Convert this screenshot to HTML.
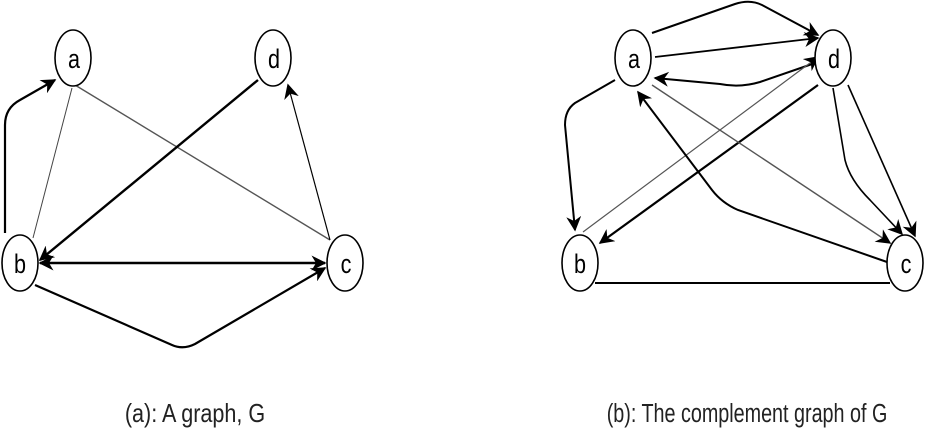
<!DOCTYPE html>
<html><head><style>
html,body{margin:0;padding:0;background:#fff;width:925px;height:436px;overflow:hidden}
</style></head><body>
<svg width="925" height="436" viewBox="0 0 925 436" xmlns="http://www.w3.org/2000/svg" font-family="Liberation Sans, sans-serif">
<defs>
<marker id="ar2" viewBox="0 0 10 10" refX="9" refY="5" markerWidth="15" markerHeight="15" markerUnits="userSpaceOnUse" orient="auto-start-reverse">
<path d="M0,0 L10,5 L0,10 L3,5 z" fill="#000"/></marker>
</defs>
<g fill="none" stroke="#000">
<path d="M5,233 L5,125 Q5,108 20,100 L55,80" stroke-width="2.2" marker-end="url(#ar2)"/>
<path d="M72,88 L33,238" stroke-width="1" stroke="#444"/>
<path d="M75,85 L330,240" stroke-width="1.4" stroke="#555"/>
<path d="M258,80 L40,260" stroke-width="2.4" marker-end="url(#ar2)"/>
<path d="M40,263 L325,263" stroke-width="2.6" marker-start="url(#ar2)" marker-end="url(#ar2)"/>
<path d="M35,285 L172,345 Q183,350 195,344 L325,268" stroke-width="2.2" marker-end="url(#ar2)"/>
<path d="M330,240 L288,85" stroke-width="1.2" marker-end="url(#ar2)"/>
<path d="M652,33 L735,4 Q750,-1 762,5 L818,35" stroke-width="2" marker-end="url(#ar2)"/>
<path d="M655,57 L818,38" stroke-width="1.8" marker-end="url(#ar2)"/>
<path d="M818,62 L760,82 Q740,88 720,84 L655,78" stroke-width="2" marker-end="url(#ar2)"/>
<path d="M583,232 L818,57" stroke-width="1.2" stroke="#555" marker-end="url(#ar2)"/>
<path d="M615,80 L575,103 Q565,110 565,125 L575,230" stroke-width="2" marker-end="url(#ar2)"/>
<path d="M818,85 L600,243" stroke-width="2.2" marker-end="url(#ar2)"/>
<path d="M652,85 L890,243" stroke-width="1.4" stroke="#555" marker-end="url(#ar2)"/>
<path d="M887,262 L738,210 Q722,203 712,190 L638,92" stroke-width="2" marker-end="url(#ar2)"/>
<path d="M833,88 L845,160 Q850,180 870,200 L902,234" stroke-width="1.6" marker-end="url(#ar2)"/>
<path d="M848,85 L915,236" stroke-width="1.6" marker-end="url(#ar2)"/>
<path d="M595,283 L890,283" stroke-width="2"/>
</g>
<g fill="#fff" stroke="#000" stroke-width="1.6">
<ellipse cx="73" cy="58" rx="18" ry="28"/>
<ellipse cx="273" cy="58" rx="18" ry="28"/>
<ellipse cx="20" cy="263" rx="18" ry="28"/>
<ellipse cx="345" cy="263" rx="18" ry="28"/>
<ellipse cx="633" cy="58" rx="18" ry="28"/>
<ellipse cx="833" cy="58" rx="18" ry="28"/>
<ellipse cx="580" cy="263" rx="18" ry="28"/>
<ellipse cx="905" cy="263" rx="18" ry="28"/>
</g>
<g font-size="27" text-anchor="middle" fill="#000">
<text transform="translate(74,68) scale(0.8,1)">a</text>
<text transform="translate(274,68) scale(0.8,1)">d</text>
<text transform="translate(20,273) scale(0.8,1)">b</text>
<text transform="translate(346,273) scale(0.8,1)">c</text>
<text transform="translate(634,68) scale(0.8,1)">a</text>
<text transform="translate(834,68) scale(0.8,1)">d</text>
<text transform="translate(580,273) scale(0.8,1)">b</text>
<text transform="translate(906,273) scale(0.8,1)">c</text>
</g>
<g font-size="26" text-anchor="middle" fill="#222">
<text transform="translate(195,422) scale(0.83,1)">(a): A graph, G</text>
<text transform="translate(747,422) scale(0.76,1)">(b): The complement graph of G</text>
</g>
</svg>
</body></html>
